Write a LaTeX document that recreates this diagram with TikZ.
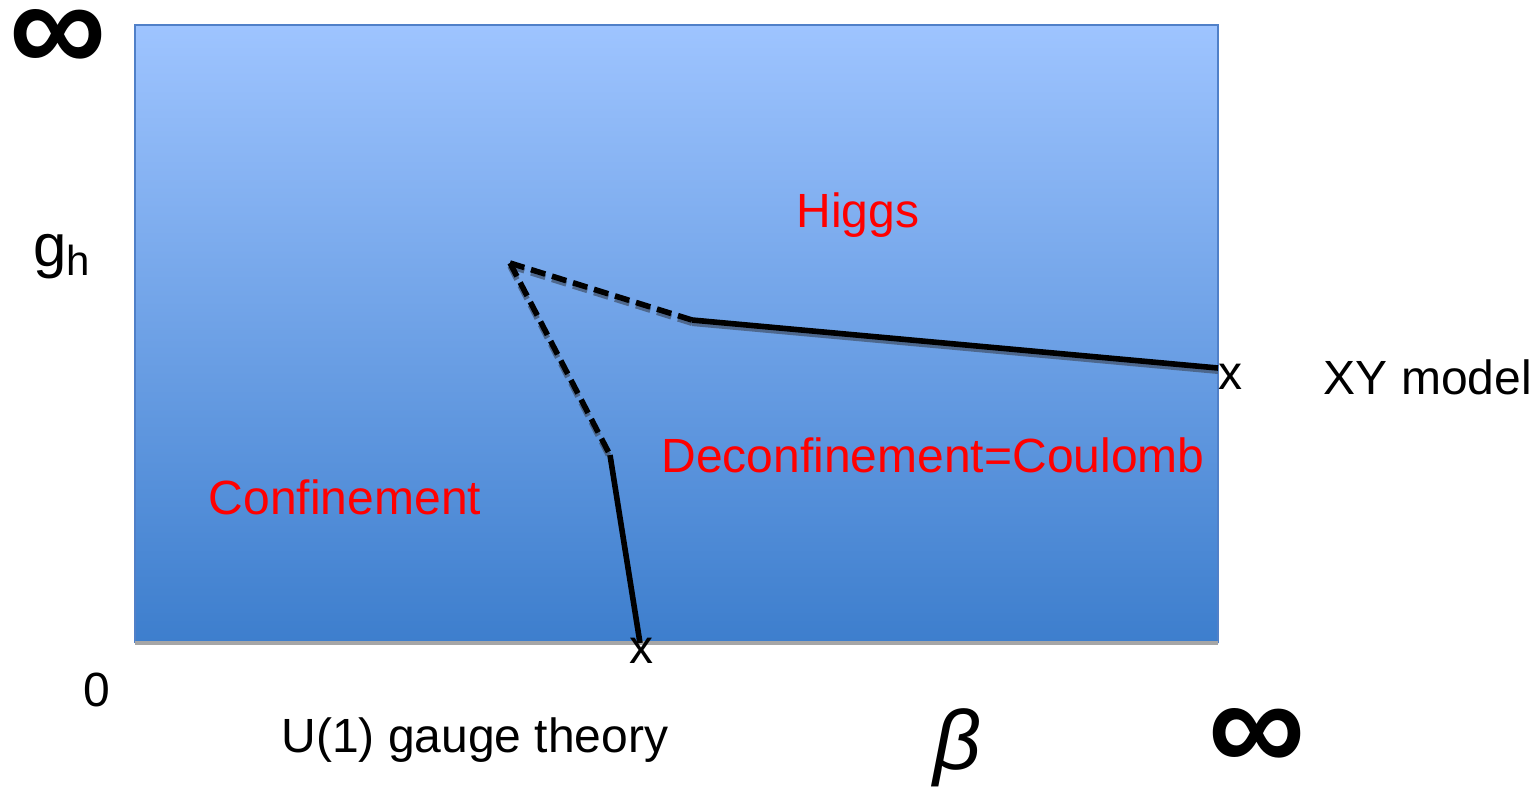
\documentclass[tikz,border=0pt]{standalone}
\usepackage{fontspec}
\setmainfont{Liberation Sans}
\begin{document}
\begin{tikzpicture}[x=0.5pt,y=-0.5pt,
  lbl/.style={inner sep=0pt,font=\fontsize{24}{28}\selectfont},
  red lbl/.style={lbl,text={rgb,255:red,255;green,0;blue,0}},
  inf/.style={inner sep=0pt,font=\fontsize{68}{72}\selectfont\bfseries},
  boundary/.style={line width=2.8pt,black},
  shadowline/.style={line width=2.8pt,color={rgb,255:red,70;green,90;blue,120},opacity=0.8},
  dashedb/.style={boundary,dash pattern=on 7.5pt off 3.5pt}]
\useasboundingbox (0,0) rectangle (1538,789);
\definecolor{topblue}{RGB}{158,196,255}
\definecolor{botblue}{RGB}{61,126,205}
\definecolor{edgeblue}{RGB}{80,128,200}
% region
\shade[top color=topblue,bottom color=botblue] (135,25) rectangle (1218,643);
\draw[edgeblue,line width=0.8pt] (1218,643) -- (1218,25) -- (135,25) -- (135,643);
\draw[gray!70,line width=2.2pt] (135,643) -- (1218,643);
% coordinates
\coordinate (tp) at (510,263);
\coordinate (hk) at (692,320);
\coordinate (xy) at (1218,368);
\coordinate (ck) at (610,455);
\coordinate (u1) at (640,643);
% shadows
\draw[shadowline,dash pattern=on 7.5pt off 3.5pt] ([yshift=-1.6pt]tp) -- ([yshift=-1.6pt]hk);
\draw[shadowline] ([yshift=-1.6pt]hk) -- ([yshift=-1.6pt]xy);
\draw[shadowline,dash pattern=on 7.5pt off 3.5pt] ([yshift=-1.6pt]tp) -- ([yshift=-1.6pt]ck);
% boundaries
\draw[dashedb] (tp) -- (hk);
\draw[boundary] (hk) -- (xy);
\draw[dashedb] (tp) -- (ck);
\draw[boundary] (ck) -- (u1);
% labels
\node[inf] (inftop) at (58,41) {∞};
\node[inf] (infbot) at (1257,740) {∞};
\node[inner sep=0pt,anchor=base west,font=\fontsize{30}{34}\selectfont] (gh) at (33,266) {g\raisebox{-4.5pt}{\fontsize{21}{24}\selectfont h}};
\node[red lbl] (higgs) at (858,215) {Higgs};
\node[red lbl] (deconf) at (933,455) {Deconfinement=Coulomb};
\node[red lbl] (conf) at (345,497) {Confinement};
\node[lbl] (xyx) at (1230,377) {x};
\node[lbl] (u1x) at (641,651) {x};
\node[lbl] (xymodel) at (1428,377) {XY model};
\node[lbl] (zero) at (97,690) {0};
\node[lbl] (u1lbl) at (475,740) {U(1) gauge theory};
\node[inner sep=0pt,font=\fontsize{42}{46}\selectfont\itshape] (beta) at (957,748) {β};
\end{tikzpicture}
\end{document}
